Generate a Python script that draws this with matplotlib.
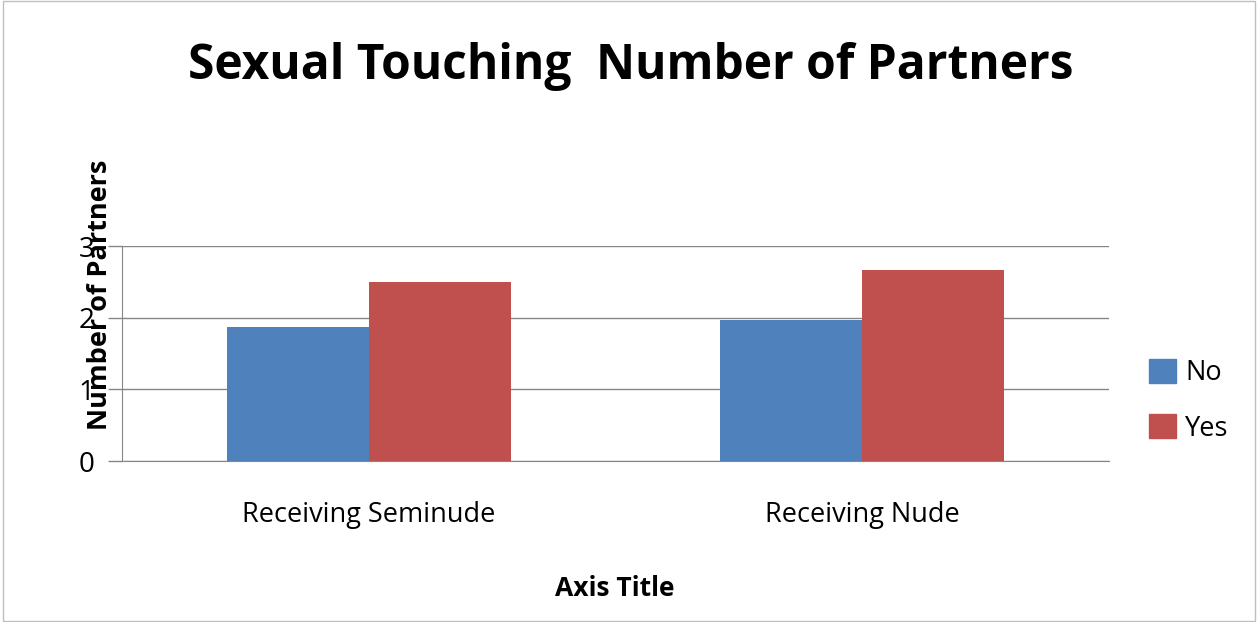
import numpy as np
import matplotlib
matplotlib.use("Agg")
import matplotlib.pyplot as plt
from matplotlib.patches import Rectangle, Patch

# datos
categories = ["Receiving Seminude", "Receiving Nude"]
no_vals = [1.87, 1.97]
yes_vals = [2.50, 2.66]
series_names = ["No", "Yes"]
colors = ["#4F81BD", "#C0504D"]

plt.rcParams['font.family'] = ['Open Sans', 'DejaVu Sans']

fig = plt.figure(figsize=(12.58, 6.22), dpi=100)
ax = fig.add_axes([0.097, 0.2588, 0.7846, 0.3457])

x = np.arange(len(categories))
w = 0.288
ax.bar(x - w / 2, no_vals, w, color=colors[0], label=series_names[0])
ax.bar(x + w / 2, yes_vals, w, color=colors[1], label=series_names[1])

ax.set_xlim(-0.5, 1.5)
ax.set_ylim(0, 3)
ax.set_yticks([0, 1, 2, 3])
ax.set_xticks(x)
ax.set_xticklabels(categories, fontsize=19.5)
ax.tick_params(axis='x', length=0, pad=29)
ax.tick_params(axis='y', labelsize=20, length=10, color='#868686', width=1, pad=10)
ax.yaxis.grid(True, color='#868686', linewidth=1)
ax.set_axisbelow(True)
for s in ['top', 'right']:
    ax.spines[s].set_visible(False)
ax.spines['left'].set_color('#868686')
ax.spines['bottom'].set_color('#868686')

# titulos
fig.text(0.5015, 0.893, "Sexual Touching  Number of Partners", ha='center', va='center',
         fontsize=34.5, fontweight='bold')
fig.text(0.489, 0.054, "Axis Title", ha='center', va='center', fontsize=19, fontweight='bold')
fig.text(0.0795, 0.526, "Number of Partners", ha='center', va='center', rotation=90,
         fontsize=19.5, fontweight='bold')

# leyenda
handles = [Patch(color=c) for c in colors]
fig.legend(handles, series_names, loc='center left', bbox_to_anchor=(0.913, 0.356),
           frameon=False, fontsize=19.5, handlelength=1.0, handleheight=1.0,
           labelspacing=1.0, handletextpad=0.35, borderpad=0, borderaxespad=0)

# borde del grafico
fig.add_artist(Rectangle((0.002, 0.002), 0.996, 0.996, transform=fig.transFigure,
                         fill=False, edgecolor='#BFBFBF', linewidth=1))

fig.savefig("out.png", dpi=100)
